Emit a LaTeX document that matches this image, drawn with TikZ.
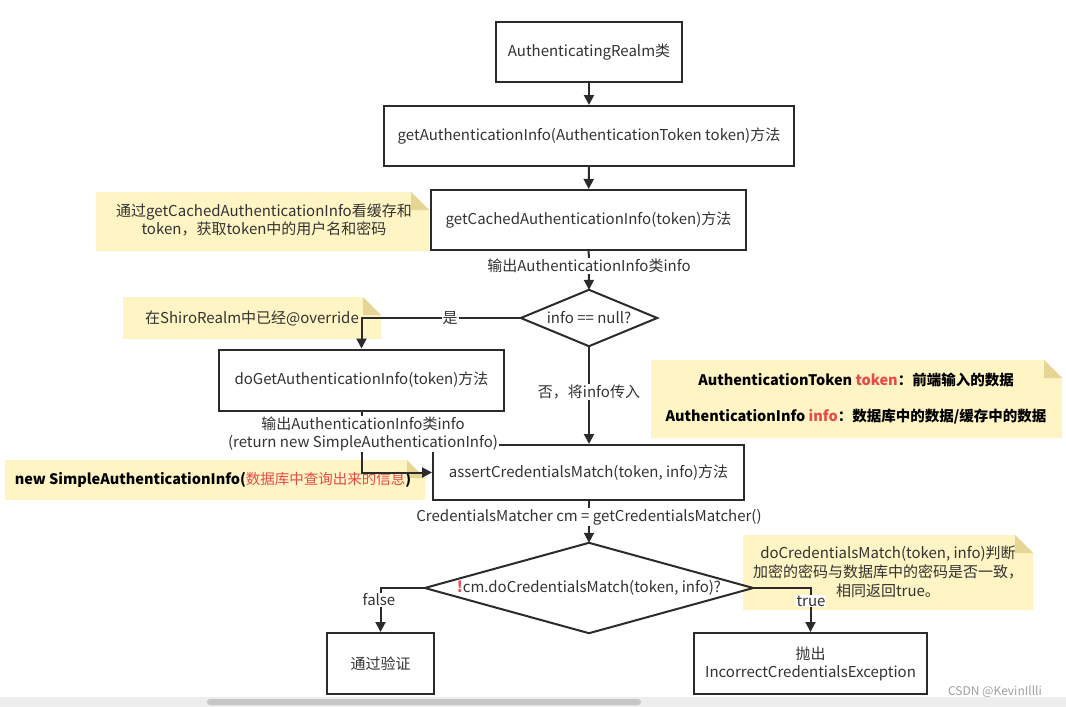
\documentclass[tikz,border=0pt]{standalone}
\usepackage{fontspec}
\setmainfont{Noto Sans CJK SC}
\usetikzlibrary{arrows.meta,calc}
\definecolor{ink}{HTML}{2B2B2B}
\definecolor{txt}{HTML}{333333}
\definecolor{notey}{HTML}{FFF4C3}
\definecolor{notef}{HTML}{E6D595}
\definecolor{redt}{HTML}{E84A4A}
\definecolor{sbar}{HTML}{EDEDED}
\definecolor{sthumb}{HTML}{C6C6C6}
\definecolor{wmark}{HTML}{A0A0A0}
\newcommand\notebg[4]{%
  \fill[notey] (#1,#2) -- (#3-18,#2) -- (#3,#2+18) -- (#3,#4) -- (#1,#4) -- cycle;
  \fill[notef] (#3-18,#2) -- (#3,#2+18) -- (#3-18,#2+18) -- cycle;}
\begin{document}
\begin{tikzpicture}[x=1pt,y=-1pt, font=\fontsize{15}{18}\selectfont, text=txt,
  box/.style={draw=ink, line width=2pt, inner sep=0pt, align=center},
  dia/.style={inner sep=0pt, align=center},
  lbl/.style={fill=white, inner sep=1pt, align=center},
  flow/.style={draw=ink, line width=2pt, -{Triangle[length=10pt,width=10pt]}},
  notetext/.style={inner sep=0pt, align=center},
  boldnote/.style={inner sep=0pt, align=center, font=\fontsize{14.5}{18}\selectfont\bfseries, text=black}]
\useasboundingbox (0,0) rectangle (1066,707);
\fill[white] (0,0) rectangle (1066,707);

% notes (background)
\notebg{96}{192}{429}{251}
\notebg{123}{297}{381}{339}
\notebg{651}{360}{1062}{438}
\notebg{5}{460}{425}{500}
\notebg{743}{535}{1033}{610}
\node[notetext] (n1) at (264,220) {通过getCachedAuthenticationInfo看缓存和\\token，获取token中的用户名和密码};
\node[notetext] (n2) at (252,318) {在ShiroRealm中已经@override};
\node[boldnote] (n3) at (856,399)
  {AuthenticationToken \textcolor{redt}{token}：前端输入的数据\\[18pt]
   AuthenticationInfo \textcolor{redt}{info}：数据库中的数据/缓存中的数据};
\node[boldnote] (n4) at (213,480)
  {new SimpleAuthenticationInfo(\textcolor{redt}{\mdseries 数据库中查询出来的信息})};
\node[notetext, font=\fontsize{15}{19}\selectfont] (n5) at (888,572) {doCredentialsMatch(token, info)判断\\加密的密码与数据库中的密码是否一致，\\相同返回true。};

% boxes
\node[box, minimum width=186, minimum height=60] (b1) at (589,52) {AuthenticatingRealm类};
\node[box, minimum width=410, minimum height=60] (b2) at (589,136) {getAuthenticationInfo(AuthenticationToken token)方法};
\node[box, minimum width=315, minimum height=60] (b3) at (588.5,220) {getCachedAuthenticationInfo(token)方法};
\node[dia, minimum width=136, minimum height=56] (d1) at (589,318) {info == null?};
\node[box, minimum width=285, minimum height=61] (b4) at (361.5,380) {doGetAuthenticationInfo(token)方法};
\node[box, minimum width=311, minimum height=55] (b5) at (588.5,472.5) {assertCredentialsMatch(token, info)方法};
\node[dia, minimum width=328, minimum height=90] (d2) at (589,588) {\textcolor{redt}{\bfseries !}cm.doCredentialsMatch(token, info)?};
\node[box, minimum width=107, minimum height=61] (b6) at (380.5,663.5) {通过验证};
\node[box, minimum width=233, minimum height=61] (b7) at (810.5,663.5) {抛出\\IncorrectCredentialsException};

\draw[ink, line width=2pt, line join=miter] (d1.west) -- (d1.north) -- (d1.east) -- (d1.south) -- cycle;
\draw[ink, line width=2pt, line join=miter] (d2.west) -- (d2.north) -- (d2.east) -- (d2.south) -- cycle;

% connectors
\draw[flow] (b1) -- (b2);
\draw[flow] (b2) -- (b3);
\draw[flow] (b3) -- (d1.north);
\coordinate (c1) at (b4.north |- d1.west);
\draw[flow] (d1.west) -- (c1) -- (b4.north);
\draw[flow] (d1.south) -- (b5.north -| d1.south);
\coordinate (c2) at (b4.south |- b5.west);
\draw[flow] (b4.south) -- (c2) -- (b5.west);
\draw[flow] (b5.south -| d2.north) -- (d2.north);
\coordinate (c3) at (b6.north |- d2.west);
\draw[flow] (d2.west) -- (c3) -- (b6.north);
\coordinate (c4) at (b7.north |- d2.east);
\draw[flow] (d2.east) -- (c4) -- (b7.north);

% labels on connectors
\node[lbl] (l1) at (589,266) {输出AuthenticationInfo类info};
\node[lbl] (l2) at (450,318) {是};
\node[lbl] (l3) at (589,392) {否，将info传入};
\node[lbl] (l4) at (363,434) {输出AuthenticationInfo类info\\(return new SimpleAuthenticationInfo)};
\node[lbl] (l5) at (589,517) {CredentialsMatcher cm = getCredentialsMatcher()};
\node[lbl] (l6) at (379,600) {false};
\node[lbl] (l7) at (811,601) {true};

% watermark and scrollbar
\node[text=wmark, font=\fontsize{12}{14}\selectfont, inner sep=0pt] (wm) at (995,692) {CSDN @KevinIllli};
\fill[sbar] (0,697) rectangle (1066,707);
\fill[sthumb, rounded corners=3pt] (207,699) rectangle (641,705);
\end{tikzpicture}
\end{document}
